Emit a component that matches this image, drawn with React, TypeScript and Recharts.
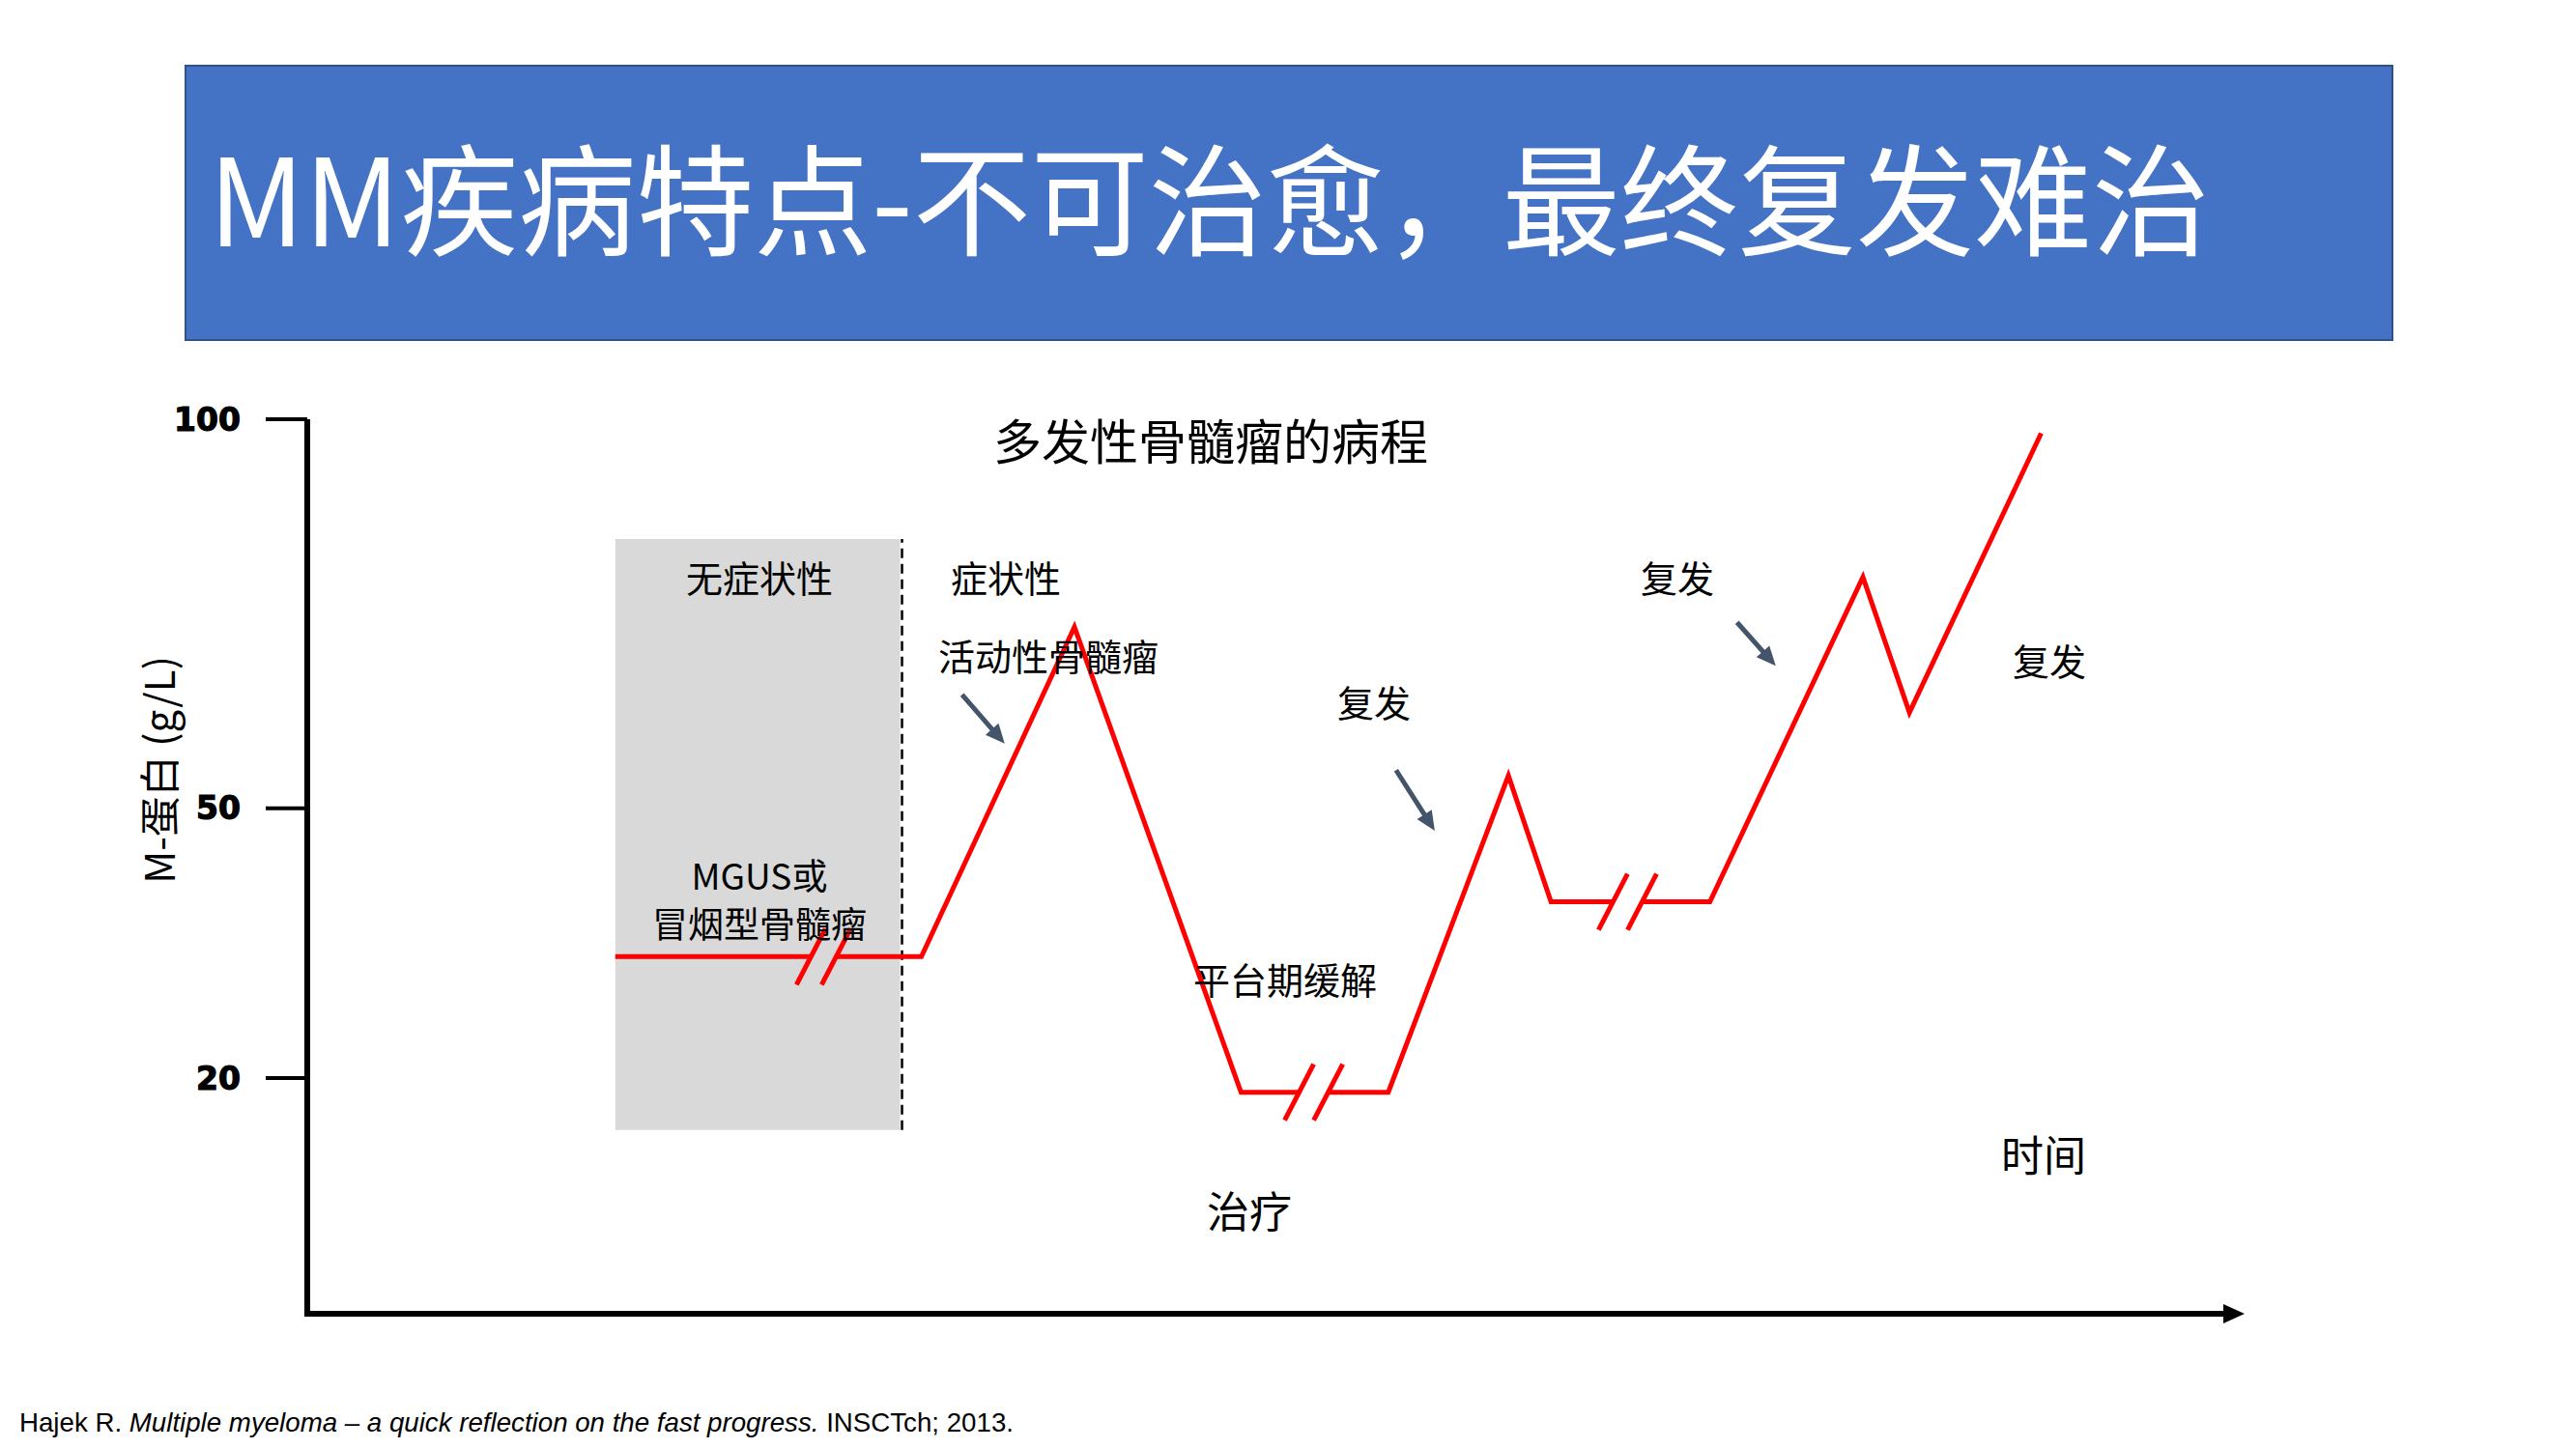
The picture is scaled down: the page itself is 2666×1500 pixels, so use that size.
import React from 'react';
import { LineChart, Line, XAxis, YAxis, ReferenceArea, ReferenceLine, ReferenceDot } from 'recharts';

// ---------------- data (time in arbitrary units 0-100, M-protein in g/L) ----------------
const timePoints = [15.9, 26.0, 26.6, 27.3, 31.7, 39.6, 48.2, 51.2, 51.9, 52.7, 55.8, 62.0, 64.2, 67.4, 68.1, 68.9, 72.4, 80.3, 82.7, 89.5];
const mProtein: (number | null)[] = [33.5, 33.5, null, 33.5, 33.5, 73.3, 18.8, 18.8, null, 18.8, 18.8, 54.2, 39.6, 39.6, null, 39.6, 39.6, 79.7, 62.3, 98.2];

// axis-break marks ("//") on the flat stretches
const breakTimes = [26.0, 27.3, 51.2, 52.7, 67.4, 68.9];
const breakLevels = [33.5, 33.5, 18.8, 18.8, 39.6, 39.6];

// y ticks
const yTicks = [20, 50, 100];

// asymptomatic phase (shaded) range
const phaseTimes = [15.9, 30.6];
const phaseLevels = [15.6, 84.6];
const phaseDividerTime = 30.7;

// annotation arrows (start -> end)
const arrowStartT = [33.8, 56.2, 73.8];
const arrowStartV = [64.6, 54.9, 73.9];
const arrowEndT = [36.0, 58.2, 75.8];
const arrowEndV = [58.3, 47.5, 68.3];

const data = timePoints.map((t, i) => ({ t, v: mProtein[i] }));

// ---------------- schematic (broken) y scale ----------------
const Y_KNOTS = [0, 20, 50, 100];
const Y_KNOT_POS = [0, 0.2634, 0.5651, 1];

function makeBrokenScale(): any {
  let dom: number[] = [0, 100];
  let rng: number[] = [0, 1];
  const toFrac = (v: number) => {
    const n = Y_KNOTS.length;
    let i = 0;
    while (i < n - 2 && v > Y_KNOTS[i + 1]) i++;
    const a = Y_KNOTS[i], b = Y_KNOTS[i + 1];
    return Y_KNOT_POS[i] + ((v - a) / (b - a)) * (Y_KNOT_POS[i + 1] - Y_KNOT_POS[i]);
  };
  const fromFrac = (f: number) => {
    const n = Y_KNOT_POS.length;
    let i = 0;
    while (i < n - 2 && f > Y_KNOT_POS[i + 1]) i++;
    const a = Y_KNOT_POS[i], b = Y_KNOT_POS[i + 1];
    return Y_KNOTS[i] + ((f - a) / (b - a)) * (Y_KNOTS[i + 1] - Y_KNOTS[i]);
  };
  const scale: any = (v: any) => {
    if (v === null || v === undefined || Number.isNaN(+v)) return undefined;
    return rng[0] + toFrac(+v) * (rng[rng.length - 1] - rng[0]);
  };
  scale.domain = function (d?: any) {
    if (d === undefined) return dom.slice();
    dom = Array.from(d).map(Number);
    return scale;
  };
  scale.range = function (r?: any) {
    if (r === undefined) return rng.slice();
    rng = Array.from(r).map(Number);
    return scale;
  };
  scale.rangeRound = scale.range;
  scale.copy = function () {
    const s = makeBrokenScale();
    s.domain(dom);
    s.range(rng);
    return s;
  };
  scale.invert = (px: number) => fromFrac((px - rng[0]) / (rng[rng.length - 1] - rng[0]));
  scale.ticks = () => Y_KNOTS.filter((k) => k >= dom[0] && k <= dom[dom.length - 1]);
  scale.tickFormat = () => (d: any) => String(d);
  scale.nice = () => scale;
  scale.clamp = function (c?: any) { return c === undefined ? false : scale; };
  scale.unknown = function (u?: any) { return u === undefined ? undefined : scale; };
  scale.interpolate = function (i?: any) { return i === undefined ? undefined : scale; };
  return scale;
}
const brokenScale = makeBrokenScale();

// ---------------- shapes ----------------
const XAxisArrow = (p: any) => {
  const { x1, y1, x2 } = p;
  const head = 22;
  return (
    <g>
      <line x1={x1 - 3} y1={y1} x2={x2 - head + 2} y2={y1} stroke="#000" strokeWidth={6} />
      <polygon points={`${x2},${y1} ${x2 - head},${y1 - 10} ${x2 - head},${y1 + 10}`} fill="#000" />
    </g>
  );
};

const ArrowShape = (p: any) => {
  const { x1, y1, x2, y2 } = p;
  const dx = x2 - x1, dy = y2 - y1;
  const len = Math.sqrt(dx * dx + dy * dy) || 1;
  const ux = dx / len, uy = dy / len;
  const head = 20, half = 9;
  const bx = x2 - ux * head, by = y2 - uy * head;
  return (
    <g>
      <line x1={x1} y1={y1} x2={bx + ux * 2} y2={by + uy * 2} stroke="#44546A" strokeWidth={5} />
      <polygon
        points={`${x2},${y2} ${bx - uy * half},${by + ux * half} ${bx + uy * half},${by - ux * half}`}
        fill="#44546A"
      />
    </g>
  );
};

const SlashShape = (p: any) => {
  const { cx, cy } = p;
  if (cx == null || cy == null) return <g />;
  return <line x1={cx - 15} y1={cy + 29} x2={cx + 15} y2={cy - 29} stroke="#FF0000" strokeWidth={5} />;
};

// ---------------- layout ----------------
const W = 2666;
const H = 1500;
const CJK = "'Noto Sans CJK SC', 'Noto Sans', sans-serif";

const notes = [
  { text: '多发性骨髓瘤的病程', x: 1253, y: 454, size: 50 },
  { text: '无症状性', x: 786, y: 596, size: 38 },
  { text: '症状性', x: 1041, y: 596, size: 38 },
  { text: '活动性骨髓瘤', x: 1085, y: 677, size: 38 },
  { text: '复发', x: 1422, y: 725, size: 38 },
  { text: '复发', x: 1736, y: 596, size: 38 },
  { text: '复发', x: 2121, y: 682, size: 38 },
  { text: 'MGUS或', x: 786, y: 905, size: 37 },
  { text: '冒烟型骨髓瘤', x: 786, y: 955, size: 37 },
  { text: '平台期缓解', x: 1330, y: 1012, size: 38 },
  { text: '治疗', x: 1293, y: 1252, size: 44 },
  { text: '时间', x: 2115, y: 1194, size: 44 },
];

export default function App() {
  return (
    <div style={{ position: 'absolute', left: 0, top: 0, width: W, height: H, background: '#fff', overflow: 'hidden' }}>
      <svg width={W} height={H} style={{ position: 'absolute', left: 0, top: 0 }}>
        <rect x={192} y={68} width={2284} height={284} fill="#4472C4" stroke="#2F528F" strokeWidth={2} />
        <text
          x={216}
          y={255}
          fontSize={125}
          fill="#fff"
          fontFamily={CJK}
          textLength={2071}
          lengthAdjust="spacingAndGlyphs"
        >
          MM疾病特点-不可治愈，最终复发难治
        </text>
      </svg>
      <div style={{ position: 'absolute', left: 0, top: 0 }}>
        <LineChart width={W} height={H} data={data} margin={{ top: 434, right: 343, bottom: 140, left: 198 }}>
          <XAxis dataKey="t" type="number" domain={[0, 100]} hide />
          <YAxis
            type="number"
            domain={[0, 100]}
            scale={brokenScale}
            ticks={yTicks}
            interval={0}
            width={120}
            allowDataOverflow
            axisLine={{ stroke: '#000', strokeWidth: 6 }}
            tickLine={{ stroke: '#000', strokeWidth: 4 }}
            tickSize={43}
            tickMargin={26}
            tick={{ fill: '#000', stroke: '#000', strokeWidth: 1.2, fontSize: 33, fontWeight: 700, fontFamily: 'DejaVu Sans' }}
          />
          <ReferenceArea
            x1={phaseTimes[0]}
            x2={phaseTimes[1]}
            y1={phaseLevels[0]}
            y2={phaseLevels[1]}
            fill="#D9D9D9"
            fillOpacity={1}
            stroke="none"
            ifOverflow="visible"
          />
          <ReferenceLine
            segment={[
              { x: phaseDividerTime, y: phaseLevels[0] },
              { x: phaseDividerTime, y: phaseLevels[1] },
            ]}
            stroke="#000"
            strokeWidth={2.5}
            strokeDasharray="10 6"
            ifOverflow="visible"
          />
          <ReferenceLine y={0} ifOverflow="visible" shape={XAxisArrow} />
          <Line
            type="linear"
            dataKey="v"
            stroke="#FF0000"
            strokeWidth={5}
            dot={false}
            activeDot={false}
            connectNulls={false}
            isAnimationActive={false}
          />
          {breakTimes.map((t, i) => (
            <ReferenceDot key={'b' + i} x={t} y={breakLevels[i]} r={0} shape={SlashShape} ifOverflow="visible" />
          ))}
          {arrowStartT.map((t, i) => (
            <ReferenceLine
              key={'a' + i}
              segment={[
                { x: t, y: arrowStartV[i] },
                { x: arrowEndT[i], y: arrowEndV[i] },
              ]}
              shape={ArrowShape}
              ifOverflow="visible"
            />
          ))}
        </LineChart>
      </div>
      <svg width={W} height={H} style={{ position: 'absolute', left: 0, top: 0, pointerEvents: 'none' }}>
        {notes.map((n, i) => (
          <text
            key={i}
            x={n.x}
            y={n.y}
            fontSize={n.size}
            fontFamily={CJK}
            fill="#000"
            textAnchor="middle"
            dominantBaseline="central"
          >
            {n.text}
          </text>
        ))}
        <text
          transform="translate(162,797) rotate(-90)"
          fontSize={42}
          fontFamily={CJK}
          fill="#000"
          textAnchor="middle"
          dominantBaseline="central"
        >
          M-蛋白 (g/L)
        </text>
        <text
          x={20}
          y={1482}
          fontSize={28}
          fontFamily="'Liberation Sans', Arial, sans-serif"
          fill="#000"
          textLength={1029}
          lengthAdjust="spacingAndGlyphs"
        >
          Hajek R.{' '}
          <tspan fontStyle="italic">Multiple myeloma – a quick reflection on the fast progress.</tspan>
          {' '}INSCTch; 2013.
        </text>
      </svg>
    </div>
  );
}
